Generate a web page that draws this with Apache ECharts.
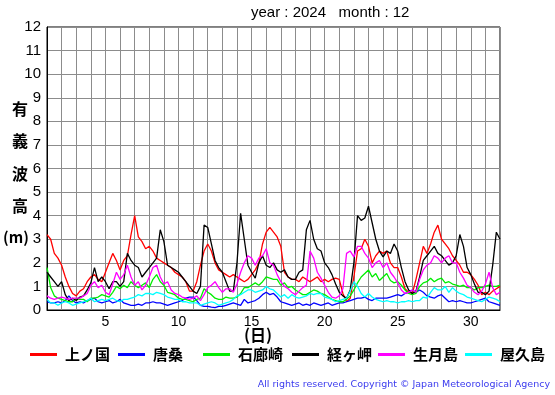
<!DOCTYPE html>
<html>
<head>
<meta charset="utf-8">
<script src="https://cdn.jsdelivr.net/npm/echarts@6/dist/echarts.min.js"></script>
<style>
html,body{margin:0;padding:0;background:#fff;}
#chart{width:555px;height:395px;}
</style>
</head>
<body>
<div id="chart"></div>
<script>
// Significant wave height (m), 6-hourly readings, Dec 2024 (day 1 00h .. day 32 00h)
const stations = ['上ノ国', '唐桑', '石廊崎', '経ヶ岬', '生月島', '屋久島'];
const colors = ['#ff0000', '#0000ff', '#00ee00', '#000000', '#ff00ff', '#00ffff'];
const xTickLabels = [5, 10, 15, 20, 25, 30];
const samplesPerDay = 4;

const kaminokuni = [3.2,3.0,2.4,2.2, 1.9,1.4,1.0,0.7, 0.6,0.8,0.9,1.2, 1.4,1.5,1.3,1.2, 1.6,2.0,2.4,2.1, 1.7,2.1,2.3,3.2, 4.0,3.1,2.9,2.6, 2.7,2.5,2.2,2.1, 2.0,1.9,1.8,1.6, 1.5,1.4,1.2,0.8, 0.8,1.2,1.9,2.5, 2.8,2.5,2.0,1.7, 1.6,1.5,1.4,1.5, 1.4,1.3,1.2,1.3, 1.5,1.7,2.0,2.8, 3.3,3.5,3.3,3.1, 2.7,1.6,1.4,1.3, 1.3,1.2,1.4,1.3, 1.2,1.3,1.4,1.2, 1.3,1.2,1.3,1.35, 1.3,0.7,0.35,0.5, 1.4,2.5,2.6,3.0, 2.7,2.0,2.3,2.5, 2.4,2.5,2.0,1.8, 1.8,1.4,0.9,0.75, 0.7,1.3,2.0,2.7, 2.4,2.8,3.3,3.6, 3.0,2.8,2.6,2.3, 2.1,1.9,1.6,1.6, 1.5,1.3,1.05,0.65, 0.75,0.65,0.8,0.9, 1.0];
const karakuwa = [0.35,0.3,0.3,0.35, 0.3,0.4,0.6,0.4, 0.3,0.35,0.3,0.4, 0.45,0.5,0.35,0.3, 0.35,0.4,0.3,0.35, 0.45,0.3,0.25,0.2, 0.2,0.25,0.2,0.3, 0.3,0.35,0.3,0.3, 0.25,0.2,0.25,0.3, 0.35,0.4,0.5,0.55, 0.55,0.4,0.2,0.15, 0.15,0.12,0.1,0.15, 0.15,0.2,0.25,0.3, 0.25,0.2,0.45,0.3, 0.35,0.4,0.5,0.65, 0.75,0.65,0.7,0.55, 0.35,0.3,0.25,0.2, 0.25,0.3,0.2,0.25, 0.2,0.3,0.25,0.2, 0.25,0.3,0.2,0.25, 0.3,0.3,0.35,0.4, 0.45,0.5,0.5,0.55, 0.45,0.4,0.5,0.5, 0.5,0.5,0.55,0.6, 0.65,0.6,0.7,0.75, 0.85,0.75,0.85,0.75, 0.6,0.55,0.5,0.6, 0.65,0.5,0.35,0.4, 0.35,0.4,0.35,0.3, 0.3,0.35,0.4,0.45, 0.5,0.35,0.3,0.25, 0.2];
const irozaki = [1.8,0.95,0.6,0.5, 0.45,0.4,0.35,0.35, 0.5,0.45,0.45,0.35, 0.5,0.5,0.55,0.65, 0.6,0.55,0.75,1.0, 0.9,1.05,0.95,1.2, 1.05,0.95,1.05,1.15, 0.95,1.3,1.5,1.2, 1.05,0.75,0.7,0.65, 0.5,0.45,0.45,0.4, 0.35,0.45,0.5,0.9, 0.75,0.65,0.5,0.45, 0.45,0.55,0.5,0.5, 0.55,0.7,0.95,0.95, 1.05,1.15,1.05,1.2, 1.4,1.35,1.3,1.3, 1.05,1.15,0.95,1.0, 0.85,0.75,0.65,0.65, 0.75,0.85,0.8,0.7, 0.65,0.55,0.45,0.4, 0.35,0.35,0.45,0.6, 0.85,1.15,1.4,1.55, 1.7,1.4,1.55,1.25, 1.4,1.55,1.25,1.15, 1.2,1.05,0.85,0.7, 0.65,0.7,1.0,1.15, 1.2,1.35,1.2,1.3, 1.35,1.15,1.2,1.1, 1.05,1.0,1.05,0.95, 0.95,0.85,0.95,0.95, 1.0,1.05,1.0,1.0, 1.05];
const kyogamisaki = [1.6,1.4,1.2,1.0, 1.2,0.65,0.4,0.5, 0.4,0.55,0.6,0.85, 1.15,1.8,1.2,1.4, 1.2,0.9,1.2,1.2, 1.0,1.2,2.4,2.1, 1.9,1.8,1.4,1.6, 1.8,2.0,2.2,3.4, 2.9,1.9,1.8,1.7, 1.6,1.4,1.2,1.0, 0.8,0.7,1.0,3.6, 3.5,2.8,2.1,1.8, 1.6,1.2,0.8,0.8, 2.0,4.1,3.0,1.9, 1.6,1.35,2.0,2.3, 1.9,1.8,2.0,1.7, 1.6,1.7,1.4,1.3, 1.3,1.6,1.7,3.4, 3.8,3.0,2.6,2.5, 2.0,1.8,1.5,1.1, 0.75,0.6,0.5,0.85, 2.0,4.0,3.8,3.9, 4.4,3.7,3.0,2.5, 2.25,2.5,2.4,2.8, 2.5,1.8,1.2,0.85, 0.7,0.8,1.4,2.1, 2.3,2.5,2.7,2.4, 2.3,2.1,1.9,2.0, 2.3,3.2,2.7,1.8, 1.5,1.1,0.75,0.75, 0.65,0.8,1.9,3.3, 3.0];
const ikitsukishima = [0.6,0.5,0.45,0.5, 0.55,0.5,0.45,0.5, 0.5,0.5,0.6,0.7, 1.05,1.2,0.95,1.05, 0.75,0.65,1.1,1.6, 1.3,1.5,1.9,1.4, 1.05,1.2,0.85,1.05, 1.4,1.8,1.9,1.4, 1.1,1.2,0.85,0.7, 0.65,0.55,0.5,0.45, 0.5,0.6,0.4,0.65, 0.95,1.05,1.2,0.95, 0.75,0.9,0.9,0.75, 1.1,1.6,2.0,2.3, 2.2,1.9,2.2,2.3, 2.6,2.0,1.9,1.5, 1.2,1.0,0.9,0.75, 0.65,0.8,0.95,1.05, 2.5,2.2,1.6,1.35, 1.05,0.75,0.55,0.5, 0.6,0.9,2.4,2.5, 2.25,2.7,2.7,2.4, 2.2,1.8,2.0,2.1, 1.8,2.0,1.6,1.4, 1.15,0.85,0.7,0.75, 0.85,0.75,1.3,1.7, 1.9,2.0,2.3,2.2, 2.0,2.2,2.3,2.0, 2.0,1.6,1.35,1.05, 0.95,0.75,0.65,0.8, 1.1,1.6,0.95,0.65, 0.75];
const yakushima = [0.45,0.3,0.3,0.2, 0.3,0.35,0.3,0.2, 0.25,0.3,0.35,0.4, 0.5,0.35,0.4,0.45, 0.4,0.45,0.5,0.4, 0.35,0.45,0.45,0.5, 0.55,0.65,0.6,0.7, 0.7,0.65,0.75,0.7, 0.65,0.55,0.5,0.45, 0.45,0.35,0.35,0.3, 0.3,0.3,0.2,0.25, 0.3,0.35,0.3,0.2, 0.25,0.3,0.35,0.45, 0.6,0.65,0.75,0.85, 0.85,0.75,0.8,0.85, 1.0,0.9,0.85,0.7, 0.55,0.65,0.5,0.65, 0.55,0.5,0.55,0.6, 0.7,0.65,0.7,0.7, 0.55,0.5,0.45,0.35, 0.4,0.45,0.5,0.8, 1.2,1.0,0.7,0.55, 0.7,0.55,0.45,0.4, 0.35,0.4,0.35,0.35, 0.3,0.35,0.35,0.4, 0.35,0.4,0.4,0.55, 0.5,0.75,0.95,0.85, 0.85,1.0,0.75,0.95, 0.8,0.7,0.65,0.55, 0.5,0.45,0.4,0.35, 0.45,0.55,0.5,0.45, 0.35];

const seriesValues = [kaminokuni, karakuwa, irozaki, kyogamisaki, ikitsukishima, yakushima];

const chart = echarts.init(document.getElementById('chart'), null, {renderer: 'canvas'});
const legendLefts = [30, 118, 203, 292, 378, 465];
const jpFont = '"Noto Sans CJK JP", "Noto Sans", sans-serif';
const numFont = '"Liberation Sans", Arial, sans-serif';

const option = {
  animation: false,
  backgroundColor: '#ffffff',
  grid: {left: 47, right: 55, top: 27, bottom: 85, show: true, borderColor: '#000', borderWidth: 1, backgroundColor: 'transparent'},
  legend: stations.map((name, i) => ({
    data: [name],
    left: legendLefts[i],
    top: 347,
    icon: 'rect',
    itemWidth: 27,
    itemHeight: 3,
    itemGap: 0,
    padding: 0,
    selectedMode: false,
    textStyle: {fontFamily: jpFont, fontSize: 15, fontWeight: 'bold', color: '#000', padding: [0, 0, 0, 3]}
  })),
  xAxis: {
    type: 'value', min: 1, max: 32, interval: 1,
    axisLine: {show: true, lineStyle: {color: '#000', width: 1}},
    axisTick: {show: false},
    splitLine: {show: true, lineStyle: {color: '#8c8c8c', width: 1}},
    axisLabel: {
      color: '#000', fontSize: 14, fontFamily: numFont, margin: 5,
      formatter: v => (xTickLabels.indexOf(v) >= 0 ? String(v) : '')
    }
  },
  yAxis: {
    type: 'value', min: 0, max: 12, interval: 1,
    axisLine: {show: true, lineStyle: {color: '#000', width: 1}},
    axisTick: {show: false},
    splitLine: {show: true, lineStyle: {color: '#8c8c8c', width: 1}},
    axisLabel: {color: '#000', fontSize: 15, fontFamily: numFont, margin: 6}
  },
  graphic: [
    {type: 'text', left: 251, top: 5, style: {text: 'year : 2024   month : 12', fontSize: 15, fontFamily: numFont, fill: '#000'}},
    {type: 'text', left: 12, top: 101, style: {text: '有', fontSize: 16, fontWeight: 'bold', fontFamily: jpFont, fill: '#000'}},
    {type: 'text', left: 12, top: 133, style: {text: '義', fontSize: 16, fontWeight: 'bold', fontFamily: jpFont, fill: '#000'}},
    {type: 'text', left: 12, top: 166, style: {text: '波', fontSize: 16, fontWeight: 'bold', fontFamily: jpFont, fill: '#000'}},
    {type: 'text', left: 12, top: 198, style: {text: '高', fontSize: 16, fontWeight: 'bold', fontFamily: jpFont, fill: '#000'}},
    {type: 'text', left: 3, top: 230, style: {text: '(m)', fontSize: 15, fontWeight: 'bold', fontFamily: jpFont, fill: '#000'}},
    {type: 'text', left: 244, top: 327, style: {text: '(日)', fontSize: 16, fontWeight: 'bold', fontFamily: jpFont, fill: '#000'}},
    {type: 'text', right: 5, top: 380, style: {text: 'All rights reserved. Copyright © Japan Meteorological Agency', fontSize: 9.5, fontFamily: '"DejaVu Sans", sans-serif', fill: '#3a3aee'}}
  ],
  series: seriesValues.map((vals, i) => ({
    name: stations[i],
    type: 'line',
    data: vals.map((v, k) => [1 + k / samplesPerDay, v]),
    showSymbol: false,
    symbol: 'none',
    lineStyle: {color: colors[i], width: 1.3},
    itemStyle: {color: colors[i]},
    z: 2 + i
  }))
};
chart.setOption(option);
</script>
</body>
</html>
